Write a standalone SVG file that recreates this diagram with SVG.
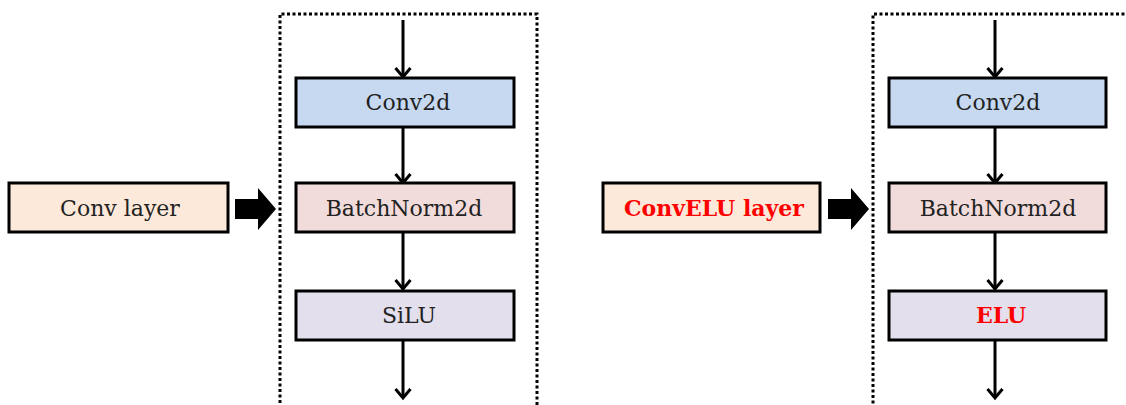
<svg xmlns="http://www.w3.org/2000/svg" width="1126" height="405" viewBox="0 0 1126 405">
<style>
.box{stroke:#000;stroke-width:3}
.layer{fill:#fde9d9}
.conv{fill:#c6d9f1}
.bn{fill:#f2dcdb}
.act{fill:#e4dfec}
.t{font-family:"DejaVu Serif","Liberation Serif",serif;font-size:22px;fill:#222;text-anchor:middle}
.red{fill:#ff0000;font-weight:bold}
.dot{fill:none;stroke:#000;stroke-width:3;stroke-dasharray:3 2.5}
.flow{stroke:#000;stroke-width:3;fill:none;marker-end:url(#ah)}
.block{fill:#000}
</style>
<defs>
<marker id="ah" markerUnits="userSpaceOnUse" markerWidth="20" markerHeight="20" refX="11" refY="10" orient="auto" viewBox="0 0 20 20">
<polyline points="2,2.5 11,10 2,17.5" fill="none" stroke="#000" stroke-width="3"/>
</marker>
</defs>
<g id="frame-left"><path class="dot" d="M537,405 V14 H280 V405"/></g>
<g id="frame-right"><path class="dot" d="M1130,14 H873 V405"/></g>
<g id="connectors">
<line class="flow" x1="403" y1="20" x2="403" y2="77"/>
<line class="flow" x1="403" y1="127" x2="403" y2="183"/>
<line class="flow" x1="403" y1="232" x2="403" y2="289"/>
<line class="flow" x1="403" y1="340" x2="403" y2="398"/>
<line class="flow" x1="995" y1="20" x2="995" y2="77"/>
<line class="flow" x1="995" y1="127" x2="995" y2="183"/>
<line class="flow" x1="995" y1="232" x2="995" y2="289"/>
<line class="flow" x1="995" y1="340" x2="995" y2="398"/>
<polygon class="block" points="235,199 258,199 258,188 276,209 258,230 258,219 235,219"/>
<polygon class="block" points="828,199 851,199 851,188 869,209 851,230 851,219 828,219"/>
</g>
<g id="conv-layer"><rect class="box layer" x="9" y="183" width="219" height="49"/><text class="t" x="120" y="216">Conv layer</text></g>
<g id="conv2d-left"><rect class="box conv" x="296" y="78" width="218" height="49"/><text class="t" x="408" y="110">Conv2d</text></g>
<g id="bn-left"><rect class="box bn" x="296" y="183" width="218" height="49"/><text class="t" x="404" y="216">BatchNorm2d</text></g>
<g id="silu"><rect class="box act" x="296" y="291" width="218" height="49"/><text class="t" x="409" y="323">SiLU</text></g>
<g id="convelu-layer"><rect class="box layer" x="603" y="183" width="217" height="49"/><text class="t red" x="714" y="216">ConvELU layer</text></g>
<g id="conv2d-right"><rect class="box conv" x="889" y="78" width="217" height="49"/><text class="t" x="998" y="110">Conv2d</text></g>
<g id="bn-right"><rect class="box bn" x="889" y="183" width="217" height="49"/><text class="t" x="998" y="216">BatchNorm2d</text></g>
<g id="elu"><rect class="box act" x="889" y="291" width="217" height="49"/><text class="t red" x="1001" y="323">ELU</text></g>
</svg>
